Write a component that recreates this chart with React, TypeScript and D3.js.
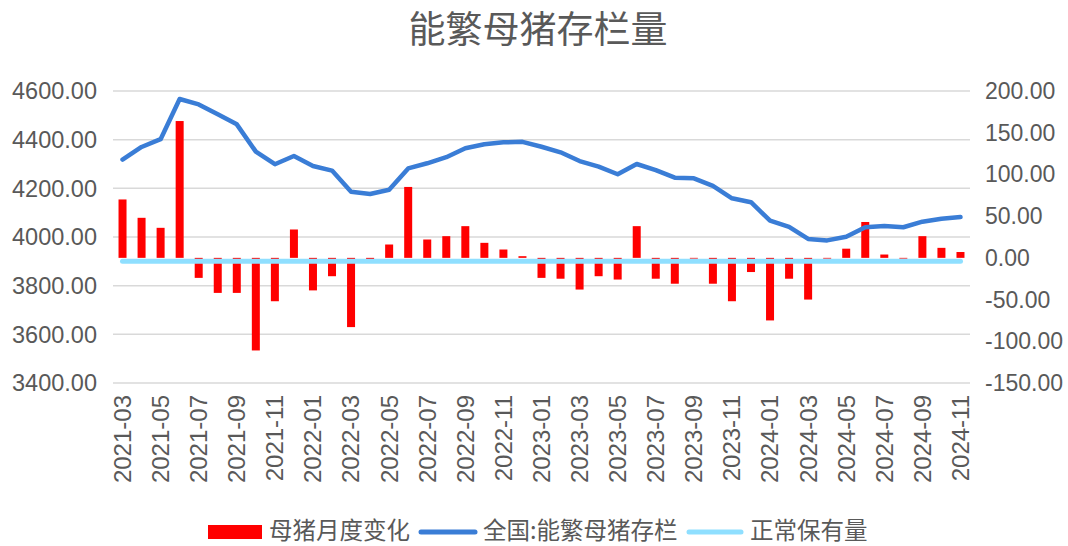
import { useMemo } from "react";
import * as d3 from "d3";

// months shown on the category axis
const MONTHS = [
  "2021-03","2021-04","2021-05","2021-06","2021-07","2021-08","2021-09","2021-10","2021-11","2021-12",
  "2022-01","2022-02","2022-03","2022-04","2022-05","2022-06","2022-07","2022-08","2022-09","2022-10","2022-11","2022-12",
  "2023-01","2023-02","2023-03","2023-04","2023-05","2023-06","2023-07","2023-08","2023-09","2023-10","2023-11","2023-12",
  "2024-01","2024-02","2024-03","2024-04","2024-05","2024-06","2024-07","2024-08","2024-09","2024-10","2024-11",
];

// 母猪月度变化 (right axis)
const MONTHLY_CHANGE = [
  70, 48, 36, 164, -24, -42, -42, -111, -52, 34,
  -39, -22, -83, -4, 16, 85, 22, 26, 38, 18, 10, 2,
  -24, -25, -38, -22, -26, 38, -25, -31, -1, -31, -52, -17,
  -75, -25, -50, -1, 11, 43, 4, -1, 26, 12, 7,
];

// 全国:能繁母猪存栏 (left axis)
const SOW_STOCK = [
  4318, 4370, 4402, 4567, 4545, 4504, 4463, 4351, 4299, 4333,
  4292, 4273, 4186, 4177, 4194, 4282, 4303, 4328, 4365, 4381, 4389, 4391,
  4371, 4348, 4312, 4289, 4258, 4300, 4275, 4244, 4241, 4210, 4159, 4143,
  4067, 4042, 3992, 3986, 4001, 4040, 4045, 4040, 4063, 4075, 4082,
];

// 正常保有量 (left axis)
const NORMAL_LEVEL = 3900;

const LEFT_TICKS = [3400, 3600, 3800, 4000, 4200, 4400, 4600];
const RIGHT_TICKS = [-150, -100, -50, 0, 50, 100, 150, 200];

const W = 1068;
const H = 546;
const NUM_FONT = "'Liberation Sans', Arial, sans-serif";
const CJK_FONT = "'Noto Sans CJK SC', 'Noto Sans', sans-serif";
const TEXT_COLOR = "#595959";

export default function App() {
  const plot = { left: 113, right: 970, top: 91, bottom: 383 };

  const x = useMemo(
    () => d3.scaleBand<string>().domain(MONTHS).range([plot.left, plot.right]).padding(0),
    []
  );
  const yL = d3.scaleLinear().domain([3400, 4600]).range([plot.bottom, plot.top]);
  const yR = d3.scaleLinear().domain([-150, 200]).range([plot.bottom, plot.top]);
  const fmt = (v: number) => d3.format(".2f")(v).replace("−", "-");
  const cx = (m: string) => (x(m) ?? 0) + x.bandwidth() / 2;

  const stockLine = d3
    .line<number>()
    .x((_, i) => cx(MONTHS[i]))
    .y((d) => yL(d))(SOW_STOCK);

  const normalLine = d3
    .line<string>()
    .x((m) => cx(m))
    .y(() => yL(NORMAL_LEVEL))(MONTHS);

  const barW = 8;

  return (
    <div style={{ position: "fixed", left: 0, top: 0 }}>
      <svg width={W} height={H} style={{ display: "block", background: "#fff" }}>
        {/* title */}
        <text x={538} y={43} textAnchor="middle" fill={TEXT_COLOR}
          style={{ fontFamily: CJK_FONT, fontSize: 37 }}>
          能繁母猪存栏量
        </text>

        {/* grid */}
        {LEFT_TICKS.map((t) => (
          <line key={t} x1={plot.left} x2={plot.right} y1={yL(t)} y2={yL(t)}
            stroke="#d9d9d9" strokeWidth={1.5} />
        ))}

        {/* left ticks */}
        {LEFT_TICKS.map((t) => (
          <text key={"l" + t} x={97} y={yL(t)} dy="0.35em" textAnchor="end" fill={TEXT_COLOR}
            style={{ fontFamily: NUM_FONT, fontSize: 23.5 }}>
            {fmt(t)}
          </text>
        ))}

        {/* right ticks */}
        {RIGHT_TICKS.map((t) => (
          <text key={"r" + t} x={985} y={yR(t)} dy="0.35em" textAnchor="start" fill={TEXT_COLOR}
            style={{ fontFamily: NUM_FONT, fontSize: 23 }}>
            {fmt(t)}
          </text>
        ))}

        {/* x labels, every other month */}
        {MONTHS.filter((_, i) => i % 2 === 0).map((m) => (
          <text key={m} transform={`translate(${cx(m)},${plot.bottom + 12}) rotate(-90)`}
            dy="0.35em" textAnchor="end" fill={TEXT_COLOR} style={{ fontFamily: NUM_FONT, fontSize: 24 }}>
            {m}
          </text>
        ))}

        {/* bars */}
        {MONTHLY_CHANGE.map((v, i) => (
          <rect key={MONTHS[i]} x={cx(MONTHS[i]) - barW / 2} width={barW}
            y={Math.min(yR(v), yR(0))} height={Math.abs(yR(v) - yR(0))} fill="#ff0000" />
        ))}

        {/* stock line */}
        <path d={stockLine ?? ""} fill="none" stroke="#3a7dd6" strokeWidth={4.5}
          strokeLinejoin="round" strokeLinecap="round" />

        {/* normal level */}
        <path d={normalLine ?? ""} fill="none" stroke="#8fdfff" strokeWidth={5}
          strokeLinecap="round" />

        {/* legend */}
        <g style={{ fontFamily: CJK_FONT, fontSize: 23.5 }} fill={TEXT_COLOR}>
          <rect x={208} y={525} width={54} height={14} fill="#ff0000" />
          <text x={269} y={539}>母猪月度变化</text>
          <line x1={421} x2={475} y1={532} y2={532} stroke="#3a7dd6" strokeWidth={5} strokeLinecap="round" />
          <text x={483} y={539}>全国:能繁母猪存栏</text>
          <line x1={689} x2={741} y1={532} y2={532} stroke="#8fdfff" strokeWidth={5} strokeLinecap="round" />
          <text x={750} y={539}>正常保有量</text>
        </g>
      </svg>
    </div>
  );
}
